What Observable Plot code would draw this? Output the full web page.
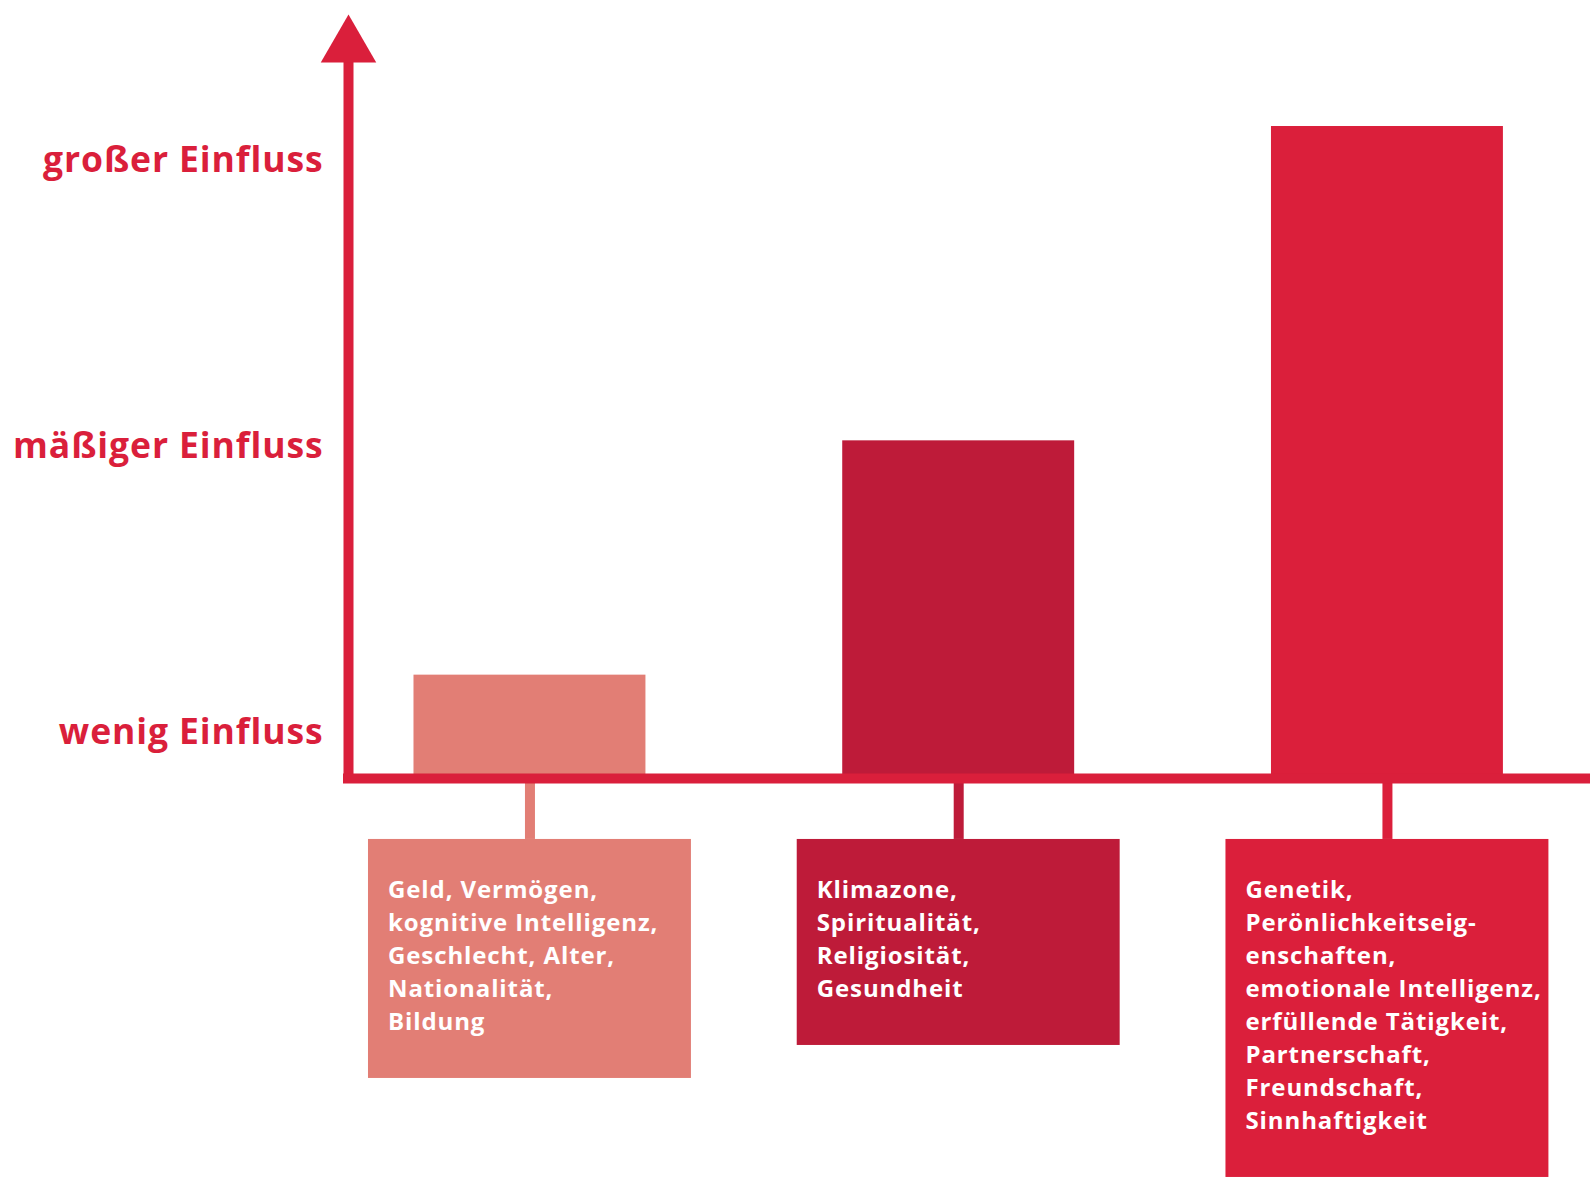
<!DOCTYPE html>
<html><head><meta charset="utf-8">
<script src="https://cdn.jsdelivr.net/npm/d3@7"></script>
<script src="https://cdn.jsdelivr.net/npm/@observablehq/plot@0.6"></script>
<style>html,body{margin:0;padding:0;background:#fff;}</style>
</head><body><div id="chart"></div>
<script>
// ---- data ----
const categories = ["wenig", "mäßig", "groß"];
const influence = [1.2, 2.02, 3.12];
const factorLists = [
  "Geld, Vermögen,\nkognitive Intelligenz,\nGeschlecht, Alter,\nNationalität,\nBildung",
  "Klimazone,\nSpiritualität,\nReligiosität,\nGesundheit",
  "Genetik,\nPerönlichkeitseig-\nenschaften,\nemotionale Intelligenz,\nerfüllende Tätigkeit,\nPartnerschaft,\nFreundschaft,\nSinnhaftigkeit"
];
const tickValues = [1, 2, 3];
const tickLabels = ["wenig Einfluss", "mäßiger Einfluss", "großer Einfluss"];
const barColors = ["#E27E75", "#BE1B39", "#DB1F3B"];

// ---- layout ----
const W = 1590, H = 1182;
const red = "#DA1F3B";
const unitPx = 285.75;          // pixels per influence level
const level1Px = 731.8;         // pixel of level 1
const baseValue = 0.838;        // x-axis baseline in influence units
const boxTopValue = 0.625;      // top of label boxes
const arrowValue = 3.40;        // arrow head centroid
const fontSize = 24, lineHeight = 1.375, linePx = 33;
const font = "'Open Sans', 'Noto Sans', sans-serif";

const rows = categories.map((c, i) => {
  const n = factorLists[i].split("\n").length;
  return {
    cat: c,
    value: influence[i],
    text: factorLists[i],
    color: barColors[i],
    boxBottom: boxTopValue - (74 + linePx * n) / unitPx
  };
});

const chart = Plot.plot({
  width: W,
  height: H,
  marginLeft: 343,
  marginRight: 0,
  marginTop: 60,
  marginBottom: H - 778,
  style: {fontFamily: font, background: "#fff", letterSpacing: "0.9px"},
  x: {domain: categories, range: [216.7, 1699.7], padding: 0.459, round: false, axis: null},
  y: {domain: [0, 4], range: [level1Px + unitPx, level1Px - 3 * unitPx], axis: null},
  color: {type: "identity"},
  marks: [
    // bars
    Plot.barY(rows, {x: "cat", y1: baseValue, y2: "value", fill: "color"}),
    // stems
    Plot.ruleX(rows, {x: "cat", y1: baseValue, y2: boxTopValue, stroke: "color", strokeWidth: 10, strokeLinecap: "butt"}),
    // label boxes
    Plot.barY(rows, {x: "cat", y1: boxTopValue, y2: "boxBottom", fill: "color", insetLeft: -45.5, insetRight: -45.5}),
    Plot.text(rows, {
      x: "cat", y: boxTopValue, text: "text",
      dx: -142, dy: 59 - 0.71 * lineHeight * fontSize,
      textAnchor: "start", lineAnchor: "top", lineHeight,
      fontSize, fontWeight: 700, fill: "white", fontFamily: font
    }),
    // axes
    Plot.frame({anchor: "left", stroke: red, strokeWidth: 10, dx: 5, strokeLinecap: "butt"}),
    Plot.ruleY([baseValue], {stroke: red, strokeWidth: 10, strokeLinecap: "butt"}),
    Plot.dot([arrowValue], {y: d => d, frameAnchor: "left", dx: 5, symbol: "triangle", r: 20.6, fill: red, stroke: "none"}),
    Plot.axisY({
      ticks: tickValues,
      tickFormat: (d) => tickLabels[tickValues.indexOf(d)],
      tickSize: 0, tickPadding: 20,
      fontSize: 35.5, fontWeight: 700, fill: red, label: null, fontFamily: font
    })
  ]
});
document.getElementById("chart").appendChild(chart);
</script>
</body></html>
